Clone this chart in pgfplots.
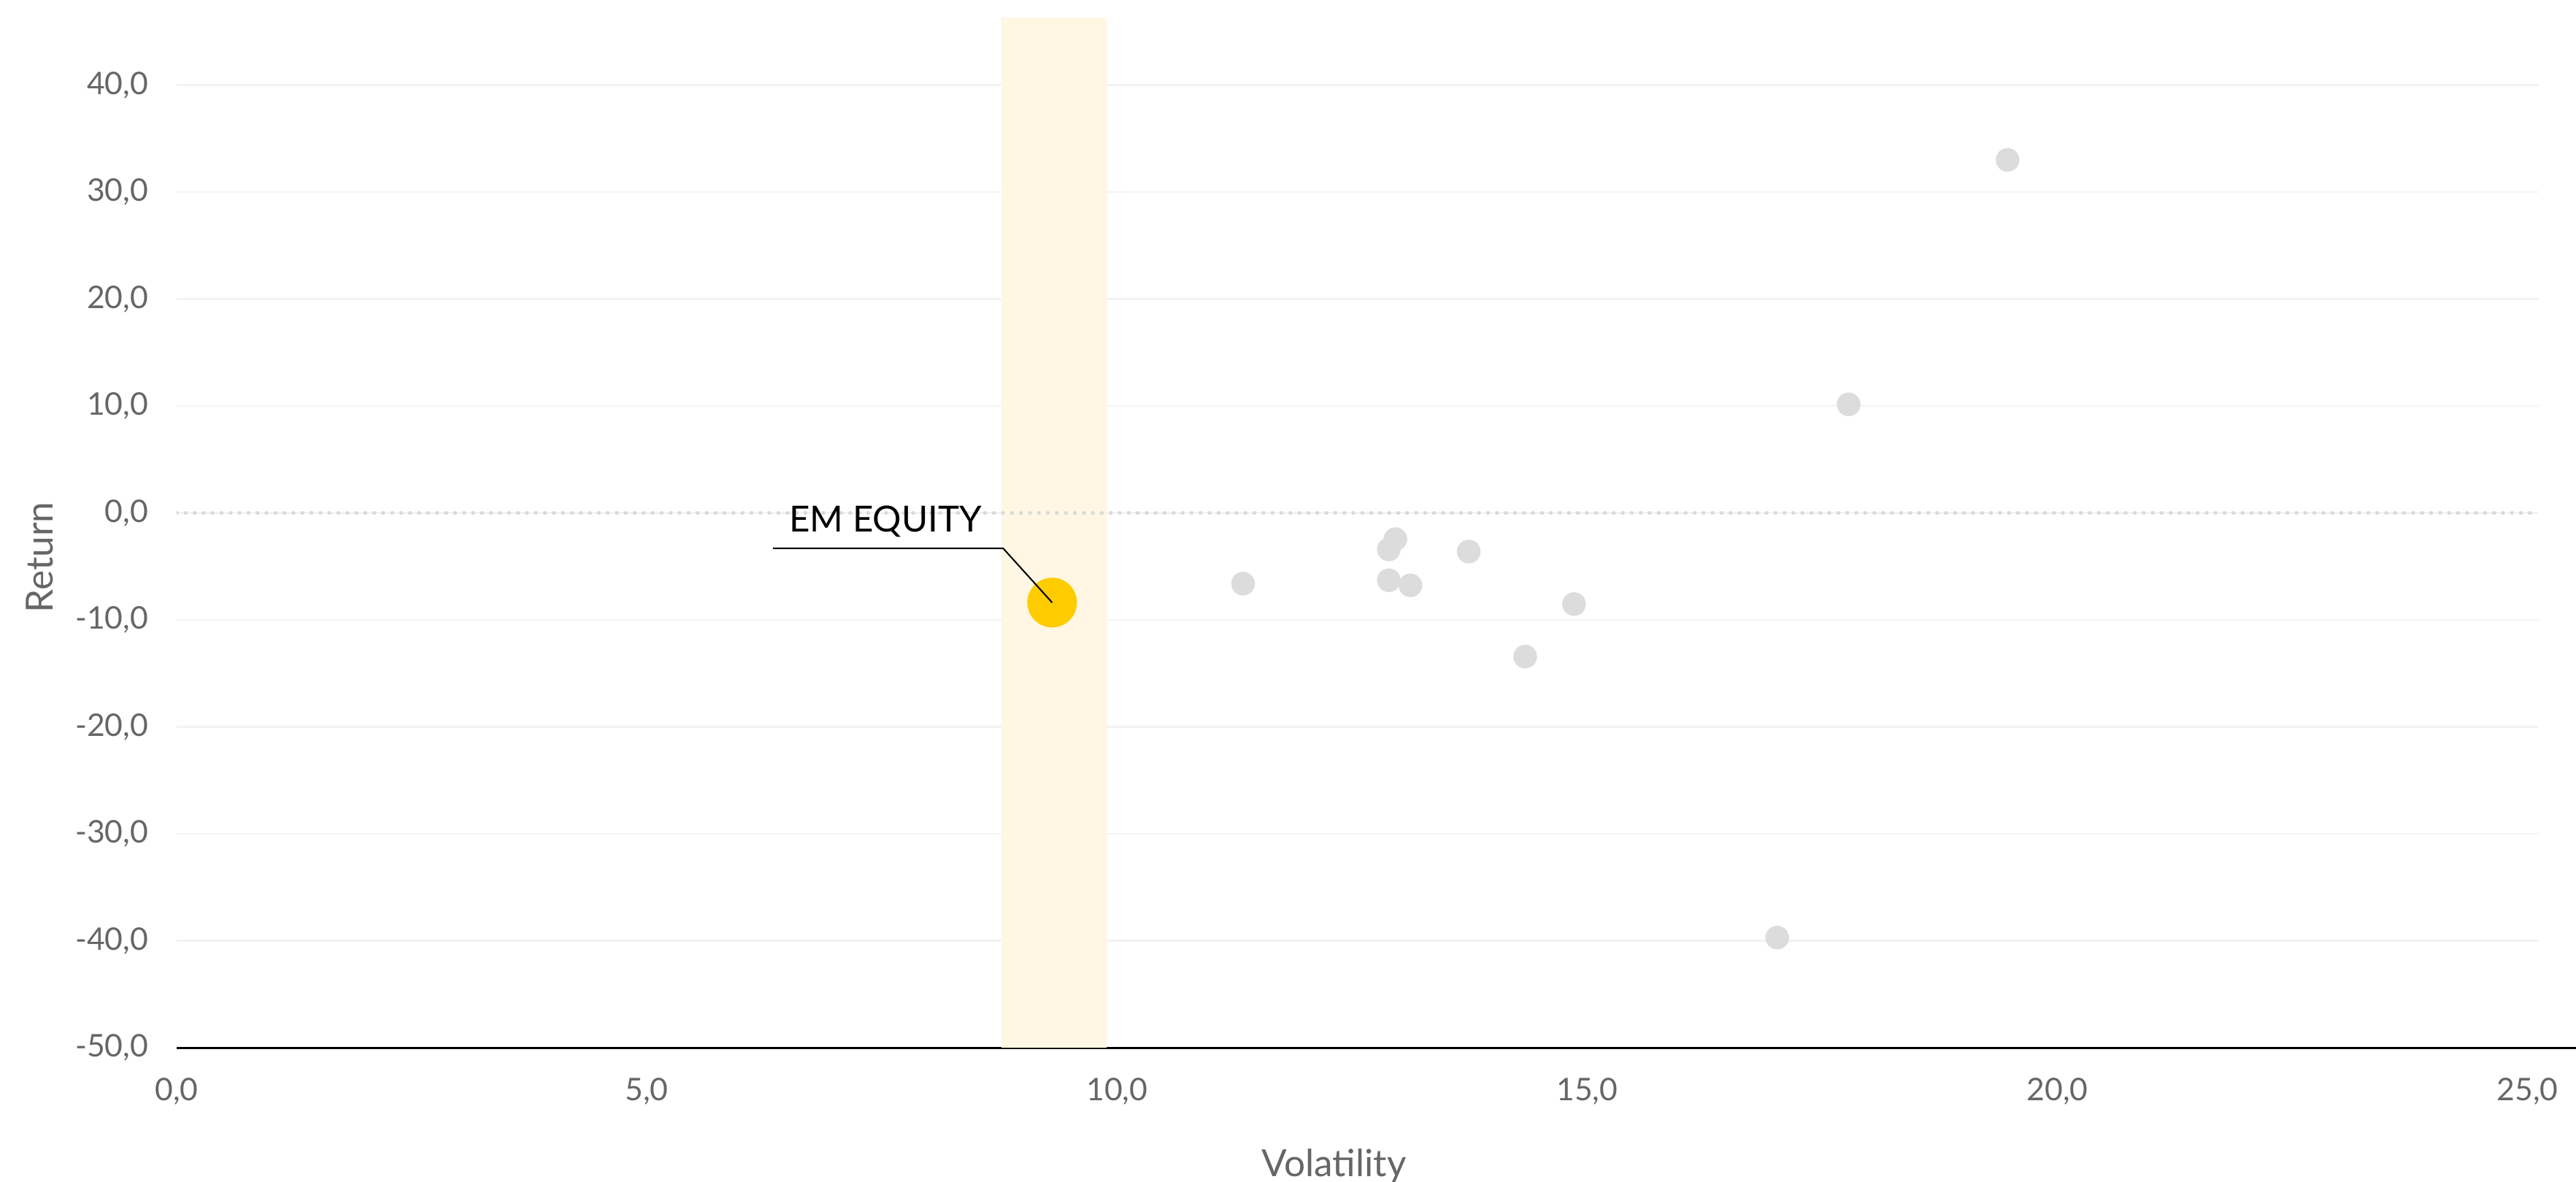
\documentclass[border=0pt]{standalone}
\usepackage{fontspec}
\setmainfont{Lato}
\usepackage{pgfplots}
\pgfplotsset{compat=1.18}

\definecolor{tickgray}{HTML}{666666}
\definecolor{gridc}{HTML}{F3F3F3}
\definecolor{dotc}{HTML}{D9D9D9}
\definecolor{ptgray}{HTML}{DCDCDC}
\definecolor{emyellow}{HTML}{FFCC00}
\definecolor{band}{HTML}{FFF7E3}

\begin{document}
\begin{tikzpicture}
\begin{axis}[
  scale only axis,
  width=789pt, height=344pt,
  xmin=0, xmax=25.12, ymin=-50, ymax=46.3,
  clip mode=individual,
  axis x line*=bottom,
  axis y line*=left,
  y axis line style={draw=none},
  x axis line style={black, line width=0.8pt, shorten >=-12.4pt},
  major tick length=0pt,
  xtick={0,5,...,25},
  ytick={-50,-40,...,40},
  ymajorgrids,
  grid style={gridc, line width=0.6pt},
  /pgf/number format/.cd, fixed, fixed zerofill, precision=1, use comma, assume math mode=true,
  /pgfplots/.cd,
  tick label style={font=\fontsize{10.4}{12}\selectfont, text=tickgray, inner sep=0pt},
  xticklabel style={anchor=north, yshift=-9.9pt},
  yticklabel style={anchor=east, xshift=-9.3pt},
  xlabel={Volatility},
  ylabel={Return},
  label style={font=\fontsize{12.5}{14}\selectfont, text=tickgray, inner sep=0pt},
  xlabel style={at={(axis description cs:0.49,0)}, anchor=north, yshift=-33.5pt},
  ylabel style={at={(axis description cs:-0.052,0.476)}, anchor=south},
]
% highlighted volatility band
\addplot[fill=band, draw=none] coordinates {(8.77,-50) (9.89,-50) (9.89,46.3) (8.77,46.3) (8.77,-50)};
% zero line
\addplot[dotc, line width=1.3pt, line cap=round, dash pattern=on 0pt off 3pt] coordinates {(0,0) (25.12,0)};
% other assets
\addplot[ptgray, only marks, mark=*, mark size=3.75pt] coordinates {
  (11.34,-6.61) (12.96,-2.45) (12.89,-3.41) (13.74,-3.61) (12.89,-6.29)
  (13.12,-6.77) (14.86,-8.52) (14.34,-13.43) (17.02,-39.70) (17.78,10.15)
  (19.47,33.00)
};
% EM equity
\addplot[emyellow, only marks, mark=*, mark size=8.1pt] coordinates {(9.31,-8.38)};
% leader line of the label, drawn over the point
\addplot[black, line width=0.5pt, mark=none] coordinates {(6.34,-3.32) (8.79,-3.32) (9.31,-8.38)};
\node[anchor=base west, inner sep=0pt, font=\fontsize{12}{14}\selectfont, text=black] at (axis cs:6.51,-1.77) {EM EQUITY};
\end{axis}
\pgfresetboundingbox
\path ([shift={(-59pt,-44.8pt)}]current axis.south west) rectangle ([shift={(12.4pt,5.9pt)}]current axis.north east);
\end{tikzpicture}
\end{document}
